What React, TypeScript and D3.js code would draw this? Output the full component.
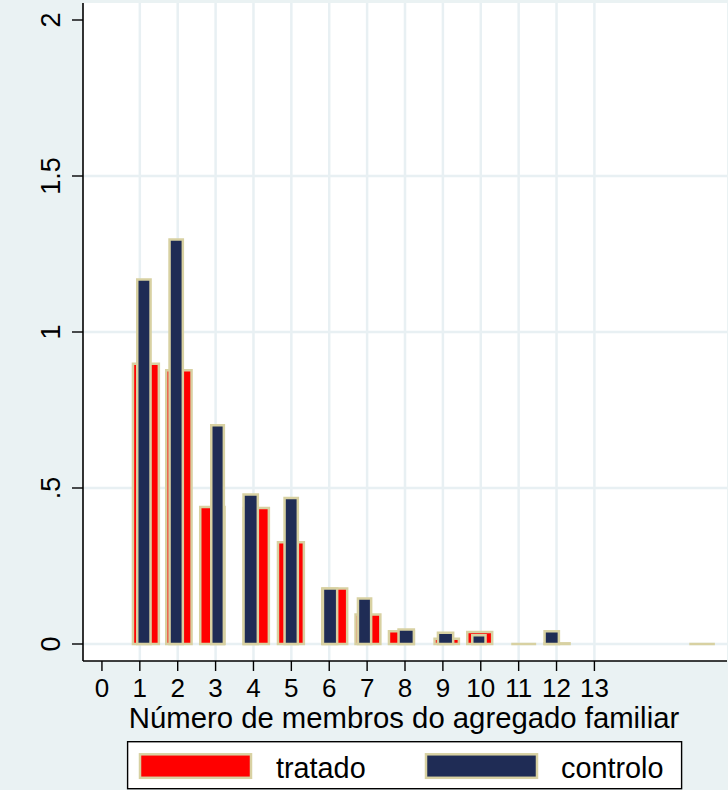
import React from 'react';
import * as d3 from 'd3';

// ---- data ----
const xTicks = [0, 1, 2, 3, 4, 5, 6, 7, 8, 9, 10, 11, 12, 13];
const yTicks = [0, 0.5, 1, 1.5, 2];
const yTickLabels = ['0', '.5', '1', '1.5', '2'];
const seriesNames = ['tratado', 'controlo'];

// histogram bins (bin start, bin end, density) — tratado
const tratadoStart = [0.787, 1.666, 2.563, 3.712, 4.615, 5.784, 6.663, 7.545, 8.749, 9.612, 10.773, 11.653, 15.473];
const tratadoEnd = [1.534, 2.397, 3.268, 4.438, 5.362, 6.505, 7.381, 8.266, 9.454, 10.333, 11.494, 12.376, 16.212];
const tratadoHeight = [0.902, 0.881, 0.443, 0.44, 0.33, 0.182, 0.098, 0.045, 0.021, 0.042, 0.003, 0.006, 0.003];

// histogram bins — controlo
const controloStart = [0.9, 1.753, 2.854, 3.706, 4.789, 5.802, 6.726, 7.798, 8.838, 9.744, 11.653];
const controloEnd = [1.315, 2.167, 3.25, 4.147, 5.203, 6.241, 7.138, 8.266, 9.303, 10.158, 12.094];
const controloHeight = [1.172, 1.3, 0.705, 0.483, 0.472, 0.182, 0.15, 0.05, 0.04, 0.032, 0.045];

const xTitle = 'Número de membros do agregado familiar';

// ---- style ----
const W = 728;
const H = 790;
const BG = '#EAF2F3';
const GRID = '#E8F0F3';
const OUTLINE = '#D8D1A2';
const RED = '#FF0000';
const NAVY = '#1F2C55';
const FONT = '"Liberation Sans", Arial, Helvetica, sans-serif';

const plot = { left: 83, right: 727, top: 3, bottom: 661 };

export default function App() {
  const x = d3.scaleLinear().domain([-0.5, 16.5]).range([plot.left, plot.right]);
  const y = d3.scaleLinear().domain([0, 2]).range([644, 20]);

  const inset = 1.2;
  const barPath = (s: number, e: number, h: number) => {
    const p = d3.path();
    const x0 = x(s) + inset;
    const x1 = x(e) - inset;
    const y0 = y(0);
    const y1 = Math.min(y(h) + inset, y0);
    p.moveTo(x0, y0);
    p.lineTo(x0, y1);
    p.lineTo(x1, y1);
    p.lineTo(x1, y0);
    p.closePath();
    return p.toString();
  };

  const tratado = tratadoStart.map((s, i) => ({ s, e: tratadoEnd[i], h: tratadoHeight[i] }));
  const controlo = controloStart.map((s, i) => ({ s, e: controloEnd[i], h: controloHeight[i] }));

  return (
    <svg width={W} height={H} style={{ position: 'absolute', left: 0, top: 0 }} fontFamily={FONT}>
      <rect x={0} y={0} width={W} height={H} fill={BG} />
      <rect x={plot.left} y={plot.top} width={plot.right - plot.left} height={plot.bottom - plot.top} fill="#FFFFFF" />

      {/* grid */}
      {yTicks.filter((t) => t < 2).map((t) => (
        <line key={'gy' + t} x1={plot.left} x2={plot.right} y1={y(t)} y2={y(t)} stroke={GRID} strokeWidth={2.5} />
      ))}
      {xTicks.filter((t) => t > 0).map((t) => (
        <line key={'gx' + t} x1={x(t)} x2={x(t)} y1={plot.top} y2={plot.bottom} stroke={GRID} strokeWidth={2.5} />
      ))}

      {/* bars */}
      {tratado.map((b, i) => (
        <path key={'t' + i} d={barPath(b.s, b.e, b.h)} fill={RED} stroke={OUTLINE} strokeWidth={2.5} strokeLinejoin="miter" />
      ))}
      {controlo.map((b, i) => (
        <path key={'c' + i} d={barPath(b.s, b.e, b.h)} fill={NAVY} stroke={OUTLINE} strokeWidth={2.5} strokeLinejoin="miter" />
      ))}

      {/* axes */}
      <line x1={plot.left} x2={plot.left} y1={plot.top} y2={plot.bottom} stroke="#000" strokeWidth={1.6} />
      <line x1={plot.left} x2={plot.right} y1={plot.bottom} y2={plot.bottom} stroke="#000" strokeWidth={1.6} />

      {yTicks.map((t, i) => (
        <g key={'yt' + t}>
          <line x1={72} x2={plot.left} y1={y(t)} y2={y(t)} stroke="#000" strokeWidth={1.4} />
          <text
            transform={`translate(59.5,${y(t)}) rotate(-90)`}
            textAnchor="middle"
            fontSize={27}
            fill="#000"
          >
            {yTickLabels[i]}
          </text>
        </g>
      ))}

      {xTicks.map((t) => (
        <g key={'xt' + t}>
          <line x1={x(t)} x2={x(t)} y1={plot.bottom} y2={671} stroke="#000" strokeWidth={1.4} />
          <text x={x(t)} y={696.5} textAnchor="middle" fontSize={26} fill="#000">
            {t}
          </text>
        </g>
      ))}

      <text x={404} y={727.5} textAnchor="middle" fontSize={29.3} fill="#000">
        {xTitle}
      </text>

      {/* legend */}
      <rect x={127.6} y={741.7} width={554} height={47} fill="#FFFFFF" stroke="#000" strokeWidth={1.4} />
      <rect x={140} y={754.3} width={111} height={23.5} fill={RED} stroke={OUTLINE} strokeWidth={2.5} />
      <text x={276} y={777.5} fontSize={28.8} fill="#000">{seriesNames[0]}</text>
      <rect x={426} y={754.3} width={111} height={23.5} fill={NAVY} stroke={OUTLINE} strokeWidth={2.5} />
      <text x={561} y={777.5} fontSize={28.8} fill="#000">{seriesNames[1]}</text>
    </svg>
  );
}
